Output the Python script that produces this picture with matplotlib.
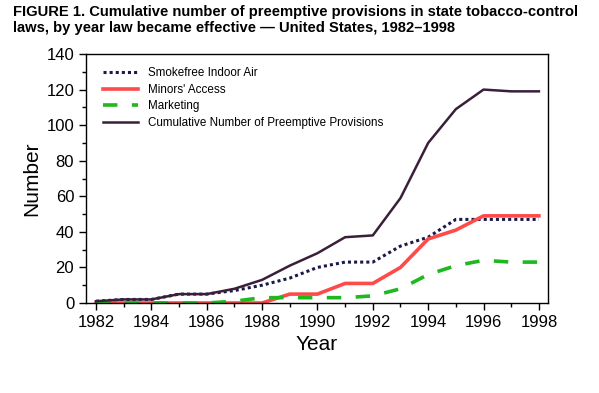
import matplotlib.pyplot as plt
from matplotlib.ticker import MultipleLocator

plt.rcParams['font.family'] = ['Liberation Sans', 'DejaVu Sans']

years = list(range(1982, 1999))
smokefree = [1, 2, 2, 5, 5, 7, 10, 14, 20, 23, 23, 32, 37, 47, 47, 47, 47]
minors = [0, 0, 0, 0, 0, 0, 0, 5, 5, 11, 11, 20, 36, 41, 49, 49, 49]
marketing = [0, 0, 0, 0, 0, 1, 3, 3, 3, 3, 4, 8, 16, 21, 24, 23, 23]
cumulative = [1, 2, 2, 5, 5, 8, 13, 21, 28, 37, 38, 59, 90, 109, 120, 119, 119]

fig = plt.figure(figsize=(5.99, 3.93), dpi=100)
ax = fig.add_axes([0.1436, 0.229, 0.7713, 0.6336])

ax.plot(years, smokefree, linestyle=(0, (1, 1)), color='#1a1a4a', lw=2.2,
        label='Smokefree Indoor Air')
ax.plot(years, minors, color='#ff4a4a', lw=2.6, label="Minors' Access")
ax.plot(years, marketing, linestyle=(0, (4, 4)), color='#1fb81f', lw=2.6,
        label='Marketing')
ax.plot(years, cumulative, color='#3a1f3a', lw=1.8,
        label='Cumulative Number of Preemptive Provisions')

ax.set_xlim(1981.64, 1998.33)
ax.set_ylim(0, 140)
ax.xaxis.set_major_locator(MultipleLocator(2))
ax.xaxis.set_minor_locator(MultipleLocator(1))
ax.yaxis.set_major_locator(MultipleLocator(20))
ax.yaxis.set_minor_locator(MultipleLocator(10))
ax.tick_params(which='major', length=5, width=1, labelsize=12, direction='out')
ax.tick_params(which='minor', length=3, width=1, direction='out')
for s in ax.spines.values():
    s.set_linewidth(1)

ax.set_xlabel('Year', fontsize=15)
ax.set_ylabel('Number', fontsize=15)

ax.legend(loc='upper left', frameon=False, fontsize=8.4, handlelength=3.0,
          labelspacing=0.4, bbox_to_anchor=(0.02, 0.98), borderaxespad=0.3)

fig.text(0.022, 0.988, 'FIGURE 1. Cumulative number of preemptive provisions in state tobacco-control\n'
         'laws, by year law became effective \u2014 United States, 1982\u20131998',
         fontsize=10.6, fontweight='bold', va='top', ha='left', linespacing=1.25)

fig.savefig('out.png', dpi=100)
